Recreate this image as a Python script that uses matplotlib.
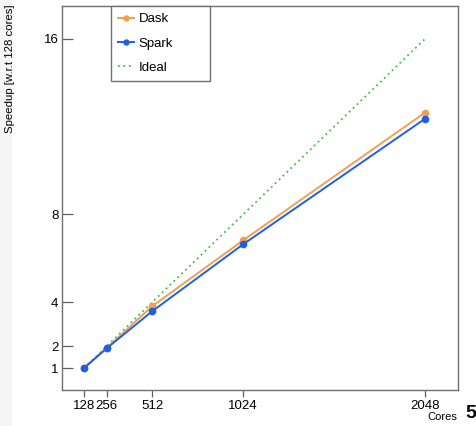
#!/usr/bin/env python3
# -*- coding: utf-8 -*-
"""Speedup vs cores, Dask / Spark / Ideal (ROOT-like style)."""

import matplotlib
matplotlib.use("Agg")
import matplotlib.pyplot as plt
from matplotlib.patches import Rectangle

# ---- data ----
cores = [128, 256, 512, 1024, 2048]
dask_speedup = [1.0, 1.92, 3.82, 6.82, 12.64]
spark_speedup = [1.0, 1.90, 3.59, 6.64, 12.36]
ideal_cores = [128, 2048]
ideal_speedup = [1.0, 16.0]

xticks = [128, 256, 512, 1024, 2048]
yticks = [1, 2, 4, 8, 16]

plt.rcParams["font.family"] = ["Liberation Sans", "DejaVu Sans"]

fig = plt.figure(figsize=(4.77, 4.26), dpi=100)
fig.patches.append(Rectangle((0, 0), 12 / 477, 1, transform=fig.transFigure,
                             facecolor="#f5f5f5", edgecolor="none", zorder=-1))
ax = fig.add_axes([62 / 477, 1 - 390 / 426, 396 / 477, 384 / 426])

ax.plot(cores, dask_speedup, color="#f0a050", lw=1.4, marker="o", ms=4.5,
        label="Dask", zorder=3)
ax.plot(cores, spark_speedup, color="#1f5fe6", lw=1.4, marker="o", ms=4.5,
        label="Spark", zorder=4)
ax.plot(ideal_cores, ideal_speedup, color="#44bb44", lw=1.3, ls=(0, (1, 2)),
        label="Ideal", zorder=2)

ax.set_xlim(4, 2234)
ax.set_ylim(0, 17.5)
ax.set_xticks(xticks)
ax.set_yticks(yticks)
ax.set_xticklabels([str(v) for v in xticks], fontsize=9.5)
ax.set_yticklabels([str(v) for v in yticks], fontsize=9.5)
ax.tick_params(axis="y", direction="in", length=8, width=0.9, color="#606060", pad=2.5)
ax.tick_params(axis="x", direction="out", length=5, width=0.9, color="#606060", pad=2)

for sp in ax.spines.values():
    sp.set_color("#707070")
    sp.set_linewidth(1.0)

fig.text(10 / 477, 0.99, "Speedup [w.r.t 128 cores]", rotation=90,
         ha="center", va="top", fontsize=8.2)
fig.text(457 / 477, 1 - 422 / 426, "Cores", ha="right", va="bottom", fontsize=8)
fig.text(465 / 477, 1 - 422 / 426, "5", ha="left", va="bottom", fontsize=14,
         fontweight="bold")

# legend box spans roughly x 111..210 px, top at the frame
leg = ax.legend(loc="upper left", bbox_to_anchor=(0.124, 1.0, 0.25, 0),
                mode="expand", fontsize=9.5,
                frameon=True, fancybox=False, framealpha=1, edgecolor="#707070",
                handlelength=1.15, handletextpad=0.4, labelspacing=0.9,
                borderpad=0.55, borderaxespad=0, markerscale=0.8)
leg.get_frame().set_linewidth(1.0)

fig.savefig("out.png", dpi=100)
